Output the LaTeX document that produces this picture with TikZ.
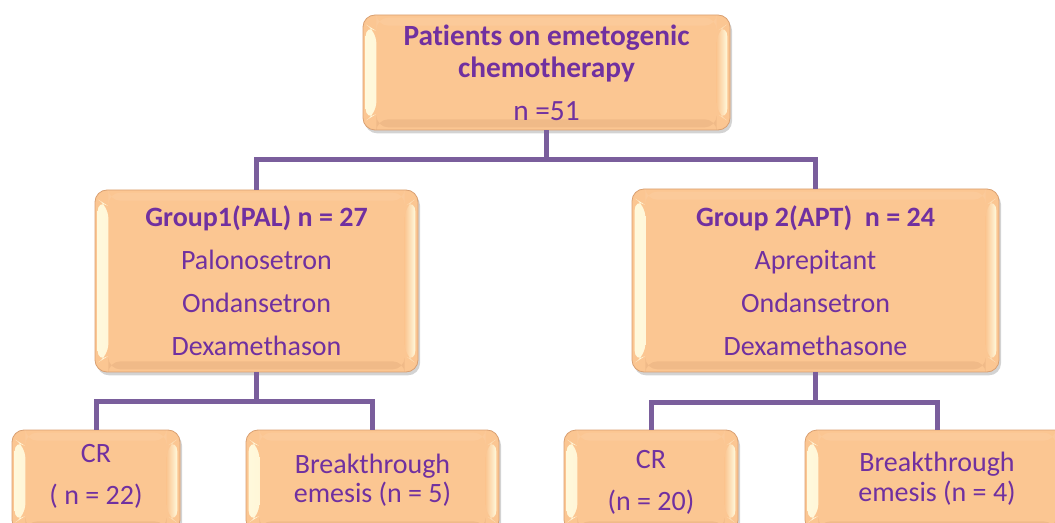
\documentclass[tikz,border=0pt]{standalone}
\usepackage{fontspec}
\setmainfont{Carlito}[Ligatures=NoCommon]
\usetikzlibrary{shadows}
\definecolor{peach}{HTML}{FBC692}
\definecolor{peachedge}{HTML}{D9A072}
\definecolor{cream}{HTML}{FFF9DC}
\definecolor{txt}{HTML}{7030A0}
\definecolor{conn}{HTML}{7A5E9C}
\tikzset{
  bevbox/.style={rectangle, rounded corners=9pt, fill=peach, draw=peachedge, line width=0.6pt,
    text=txt, align=center, inner sep=0pt,
    drop shadow={opacity=0.35, shadow xshift=1.5pt, shadow yshift=-2.5pt},
    path picture={
      \fill[left color=cream, right color=peach]
        ([xshift=2pt,yshift=-7pt]path picture bounding box.north west) --
        ([xshift=10pt,yshift=-12pt]path picture bounding box.north west) --
        ([xshift=10pt,yshift=12pt]path picture bounding box.south west) --
        ([xshift=2pt,yshift=7pt]path picture bounding box.south west) -- cycle;
      \fill[right color=cream, left color=peach]
        ([xshift=-2pt,yshift=-7pt]path picture bounding box.north east) --
        ([xshift=-10pt,yshift=-12pt]path picture bounding box.north east) --
        ([xshift=-10pt,yshift=12pt]path picture bounding box.south east) --
        ([xshift=-2pt,yshift=7pt]path picture bounding box.south east) -- cycle;
      \fill[peach!85!white, opacity=0.5]
        ([xshift=10pt,yshift=-2pt]path picture bounding box.north west) --
        ([xshift=-10pt,yshift=-2pt]path picture bounding box.north east) --
        ([xshift=-10pt,yshift=-8pt]path picture bounding box.north east) --
        ([xshift=10pt,yshift=-8pt]path picture bounding box.north west) -- cycle;
      \fill[peachedge!60!peach, opacity=0.5]
        ([xshift=10pt,yshift=2pt]path picture bounding box.south west) --
        ([xshift=-10pt,yshift=2pt]path picture bounding box.south east) --
        ([xshift=-10pt,yshift=8pt]path picture bounding box.south east) --
        ([xshift=10pt,yshift=8pt]path picture bounding box.south west) -- cycle;
    }},
  connline/.style={draw=conn, line width=3.75pt},
  lbl/.style={text=txt, align=center, inner sep=0pt}
}
\begin{document}
\begin{tikzpicture}[x=0.75pt,y=-0.75pt]
\useasboundingbox (0,0) rectangle (1055,523);
\clip (0,0) rectangle (1055,523);
% junction points
\coordinate (j1) at (546.5,160);
\coordinate (j2) at (256.5,401);
\coordinate (j3) at (815.5,402);
% boxes
\node[bevbox, minimum width=367*0.75pt, minimum height=115*0.75pt] (top) at (546.5,72.5) {};
\node[bevbox, minimum width=323*0.75pt, minimum height=182*0.75pt] (g1) at (256.5,281) {};
\node[bevbox, minimum width=367*0.75pt, minimum height=183*0.75pt] (g2) at (815.5,280.5) {};
\node[bevbox, minimum width=168*0.75pt, minimum height=102*0.75pt] (cr1) at (96,481) {};
\node[bevbox, minimum width=253*0.75pt, minimum height=102*0.75pt] (bt1) at (372.5,481) {};
\node[bevbox, minimum width=174*0.75pt, minimum height=102*0.75pt] (cr2) at (651,481) {};
\node[bevbox, minimum width=264*0.75pt, minimum height=102*0.75pt] (bt2) at (937,481) {};
% connector lines
\draw[connline] (top.south) -- (j1);
\draw[connline] (j1) -| (g1.north);
\draw[connline] (j1) -| (g2.north);
\draw[connline] (g1.south) -- (j2);
\draw[connline] (j2) -| (cr1.north);
\draw[connline] (j2) -| (bt1.north);
\draw[connline] (g2.south) -- (j3);
\draw[connline] (j3) -| (cr2.north);
\draw[connline] (j3) -| (bt2.north);
% texts
\node[lbl, font=\fontsize{22}{24}\selectfont] (toptxt) at (top.center)
  {\textbf{Patients on emetogenic}\\\textbf{chemotherapy}\\[8.25pt]n =51};
\node[lbl, font=\fontsize{21}{32.25}\selectfont] (g1txt) at (g1.center)
  {\textbf{Group1(PAL) n = 27}\\Palonosetron\\Ondansetron\\Dexamethason};
\node[lbl, font=\fontsize{21}{32.25}\selectfont] (g2txt) at (g2.center)
  {\textbf{Group 2(APT)\ \ n = 24}\\Aprepitant\\Ondansetron\\Dexamethasone};
\node[lbl, font=\fontsize{21}{31.5}\selectfont] (cr1txt) at (96,476) {CR\\( n = 22)};
\node[lbl, font=\fontsize{21}{22}\selectfont] (bt1txt) at (372.5,480) {Breakthrough\\emesis (n = 5)};
\node[lbl, font=\fontsize{21}{31.5}\selectfont] (cr2txt) at (651,482) {CR\\(n = 20)};
\node[lbl, font=\fontsize{21}{22.5}\selectfont] (bt2txt) at (937,479) {Breakthrough\\emesis (n = 4)};
\end{tikzpicture}
\end{document}
